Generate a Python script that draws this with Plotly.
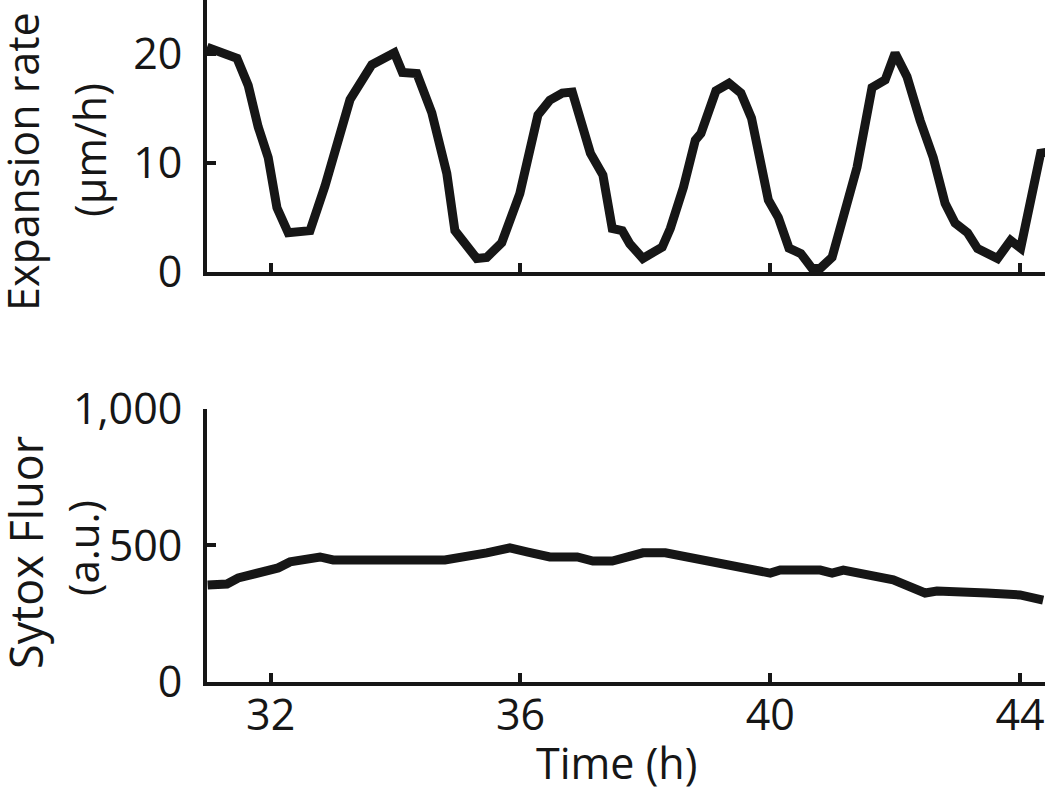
import plotly.graph_objects as go
from plotly.subplots import make_subplots

# Expansion rate (top panel)
time_exp = [30.98, 31.46, 31.64, 31.80, 31.96, 32.10, 32.28, 32.63, 32.87, 33.11, 33.27, 33.62,
            33.98, 34.11, 34.34, 34.58, 34.82, 34.95, 35.30, 35.46, 35.70, 35.99, 36.15, 36.28,
            36.47, 36.67, 36.83, 37.12, 37.32, 37.47, 37.63, 37.75, 37.96, 38.27, 38.40, 38.61,
            38.80, 38.89, 39.13, 39.34, 39.53, 39.70, 39.97, 40.13, 40.30, 40.49, 40.67, 40.80,
            40.99, 41.23, 41.39, 41.63, 41.84, 42.00, 42.19, 42.40, 42.61, 42.80, 42.96, 43.16,
            43.32, 43.64, 43.85, 44.01, 44.33, 44.44]
expansion = [20.6, 19.6, 17.1, 13.3, 10.5, 5.9, 3.6, 3.8, 7.9, 12.9, 15.8, 19.0,
             20.1, 18.3, 18.2, 14.6, 9.05, 3.8, 1.25, 1.35, 2.7, 7.2, 11.4, 14.4,
             15.75, 16.4, 16.5, 10.9, 8.9, 4.0, 3.8, 2.6, 1.25, 2.3, 4.0, 7.77,
             12.1, 12.7, 16.6, 17.3, 16.4, 14.1, 6.6, 5.0, 2.2, 1.7, 0.34, 0.34,
             1.35, 5.9, 9.6, 16.9, 17.6, 20.06, 17.9, 13.9, 10.5, 6.3, 4.5, 3.6,
             2.16, 1.25, 2.9, 2.2, 10.9, 11.0]

# Sytox fluorescence (bottom panel)
time_fl = [30.99, 31.30, 31.48, 31.67, 31.83, 32.12, 32.31, 32.79, 33.00, 34.79, 35.46, 35.83,
           36.12, 36.47, 36.91, 37.16, 37.47, 37.96, 38.32, 39.84, 40.00, 40.16, 40.80, 40.99,
           41.17, 41.97, 42.16, 42.48, 42.67, 43.28, 43.47, 44.00, 44.37]
sytox = [355, 359, 381, 392, 403, 418, 440, 458, 447, 447, 473, 491,
         476, 458, 458, 443, 443, 473, 473, 399, 399, 410, 410, 399,
         410, 374, 355, 326, 333, 333, 326, 319, 300]

x_ticks = [32, 36, 40, 44]
x_ticktext = ["32", "36", "40", "44"]
top_yticks = [0, 10, 20]
top_yticktext = ["0", "10", "20"]
bot_yticks = [0, 500, 1000]
bot_yticktext = ["0", "500", "1,000"]

INK = "#161616"
FONT = "Open Sans"
FS_TICK = 43

fig = make_subplots(rows=2, cols=1, vertical_spacing=0.0)

fig.add_trace(go.Scatter(x=time_exp, y=expansion, mode="lines",
                         line=dict(color=INK, width=9, shape="linear"),
                         showlegend=False, hoverinfo="skip"), row=1, col=1)
fig.add_trace(go.Scatter(x=time_fl, y=sytox, mode="lines",
                         line=dict(color=INK, width=9, shape="linear"),
                         showlegend=False, hoverinfo="skip"), row=2, col=1)

axis_common = dict(showline=True, linecolor=INK, linewidth=4, ticks="inside",
                   ticklen=9, tickwidth=4, tickcolor=INK, showgrid=False,
                   zeroline=False, mirror=False, automargin=False,
                   tickfont=dict(family=FONT, size=FS_TICK, color=INK))

x_range = [30.98, 44.40]
fig.update_xaxes(**axis_common, range=x_range, tickvals=x_ticks, ticktext=x_ticktext)
fig.update_xaxes(showticklabels=False, row=1, col=1)
fig.update_xaxes(ticklabelstandoff=-8, row=2, col=1)

fig.update_yaxes(**axis_common)
fig.update_yaxes(range=[0, 24.93], tickvals=top_yticks, ticktext=top_yticktext,
                 ticklabelstandoff=12, row=1, col=1)
fig.update_yaxes(range=[0, 1000], tickvals=bot_yticks, ticktext=bot_yticktext,
                 ticklabelstandoff=12, row=2, col=1)

fig.update_layout(
    xaxis=dict(domain=[0, 1], anchor="y"),
    xaxis2=dict(domain=[0, 1], anchor="y2"),
    yaxis=dict(domain=[0.601, 1.0]),
    yaxis2=dict(domain=[0.0, 0.4003]),
)

W = 838.0
def px(x):
    return (x - 207.0) / W

H = 682.0
def py(y):
    return 1 - y / H

annotations = [
    dict(text="Expansion rate", x=px(22), y=py(162), textangle=-90, size=43),
    dict(text="(µm/h)", x=px(89), y=py(150), textangle=-90, size=43),
    dict(text="Sytox Fluor", x=px(25), y=py(553), textangle=-90, size=45),
    dict(text="(a.u.)", x=px(82), y=py(548), textangle=-90, size=42),
    dict(text="Time (h)", x=px(616), y=py(763), textangle=0, size=43),
]
for a in annotations:
    s = a.pop("size")
    a.update(xref="paper", yref="paper", showarrow=False,
             xanchor="center", yanchor="middle",
             font=dict(family=FONT, size=s, color=INK))

fig.update_layout(
    width=1050, height=787,
    margin=dict(l=207, r=5, t=0, b=105, autoexpand=False),
    paper_bgcolor="white", plot_bgcolor="white",
    annotations=annotations,
    font=dict(family=FONT, color=INK),
)

fig.write_html("out.html", config={"displayModeBar": False},
               post_script="document.body.style.margin='0px';document.body.style.padding='0px';")
